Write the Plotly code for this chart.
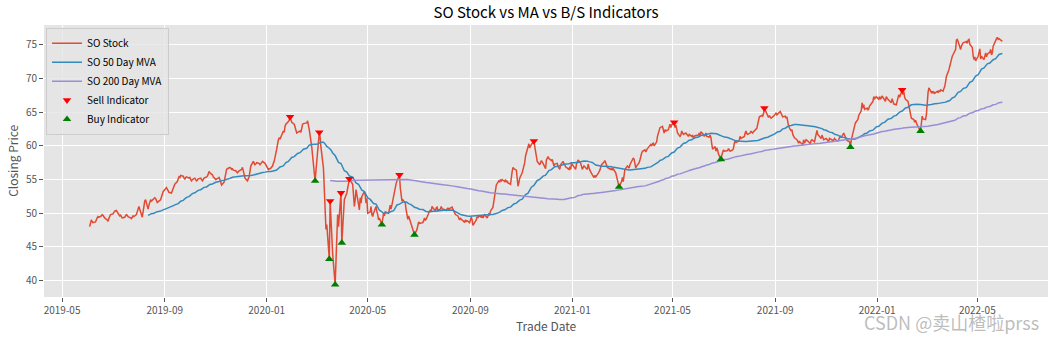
import pandas as pd
import plotly.graph_objects as go

# Southern Co. (SO) adjusted daily closes, one list per month (trading days only)
close_2019 = {
    6: [48.0, 48.4, 49.0, 48.8, 48.6, 48.7, 49.1, 49.3, 49.5, 49.4, 49.6, 49.8, 49.7, 49.5, 49.3, 49.0, 48.8, 49.2, 49.6, 49.8],
    7: [49.9, 50.1, 50.3, 50.4, 49.9, 49.6, 49.7, 49.5, 49.3, 49.4, 49.6, 49.8, 49.7, 49.5, 49.3, 49.2, 49.4, 49.6, 49.5, 49.8, 50.2, 50.5],
    8: [51.0, 50.6, 49.4, 50.2, 51.2, 51.8, 52.0, 50.6, 51.2, 51.6, 52.0, 51.8, 52.1, 52.3, 52.2, 51.8, 51.6, 51.9, 52.0, 52.4, 52.9, 53.2],
    9: [53.8, 53.6, 53.4, 53.1, 53.0, 53.3, 53.7, 54.0, 54.3, 54.7, 55.0, 55.4, 55.3, 55.6, 55.5, 55.2, 55.0, 55.3, 55.4, 55.2],
    10: [55.3, 55.0, 54.8, 55.0, 55.2, 55.0, 54.8, 54.9, 55.1, 55.2, 55.0, 54.8, 55.0, 55.2, 55.4, 55.5, 55.8, 56.2, 56.0, 55.7, 55.4, 55.2, 55.0],
    11: [55.0, 55.2, 55.3, 55.0, 54.5, 54.2, 54.6, 55.2, 56.0, 56.5, 56.6, 56.8, 56.7, 56.5, 56.6, 56.4, 56.3, 56.2, 56.0, 56.3],
    12: [56.5, 56.8, 56.4, 55.8, 55.2, 54.8, 55.1, 55.4, 56.2, 57.0, 57.7, 57.5, 57.2, 57.3, 57.5, 57.4, 57.2, 57.5, 57.7, 57.4, 57.2],
}
close_2020 = {
    1: [56.8, 56.5, 56.7, 56.8, 57.0, 57.4, 57.7, 59.5, 60.7, 60.9, 61.2, 61.0, 62.2, 62.0, 62.9, 63.2, 63.6, 63.8, 64.3, 63.9, 63.5],
    2: [63.2, 62.8, 62.3, 61.9, 62.0, 62.2, 62.0, 62.8, 63.2, 63.3, 63.4, 63.7, 63.1, 62.4, 59.8, 58.0, 57.2, 56.0, 54.8],
    3: [60.0, 60.8, 62.0, 61.3, 59.8, 56.7, 54.0, 49.5, 47.6, 48.3, 43.2, 51.8, 48.5, 46.5, 44.0, 39.4, 43.5, 46.8, 49.8, 48.0, 53.0, 45.6],
    4: [47.5, 49.5, 52.0, 53.0, 53.8, 54.4, 55.1, 54.3, 52.5, 51.0, 52.0, 53.5, 51.3, 50.5, 52.3, 51.5, 52.5, 53.2, 52.7, 51.5, 52.2],
    5: [50.0, 50.2, 51.0, 49.8, 49.5, 50.0, 51.0, 50.2, 49.8, 49.0, 49.3, 48.3, 49.2, 50.0, 49.6, 50.2, 50.0, 50.6, 51.2, 50.6],
    6: [52.6, 53.5, 54.0, 54.4, 54.8, 55.7, 53.8, 52.0, 51.8, 52.0, 51.5, 50.5, 49.8, 49.1, 49.6, 48.5, 48.0, 47.8, 47.3, 46.8, 47.6, 48.4],
    7: [48.7, 48.5, 48.6, 48.9, 49.3, 49.0, 49.1, 50.0, 50.3, 50.5, 50.2, 51.0, 50.5, 50.3, 50.8, 50.9, 50.4, 50.6, 51.0, 50.7, 50.4, 50.6],
    8: [50.4, 50.6, 50.8, 50.5, 50.7, 50.9, 50.6, 50.3, 50.0, 49.8, 49.6, 49.3, 49.0, 49.3, 49.1, 48.8, 48.6, 49.0, 48.8, 48.9, 48.6],
    9: [49.0, 49.4, 49.0, 48.2, 49.0, 49.5, 49.3, 49.6, 49.4, 49.6, 49.3, 49.5, 49.8, 49.3, 49.6, 49.9, 49.8, 50.3, 50.9, 51.8, 52.5],
    10: [53.6, 54.2, 54.8, 54.6, 55.0, 54.8, 55.0, 54.7, 55.0, 54.6, 54.8, 54.5, 54.3, 55.5, 56.2, 56.8, 56.6, 56.4, 55.5, 54.0, 54.5, 55.2],
    11: [56.0, 56.4, 57.0, 57.5, 58.5, 59.9, 60.3, 59.7, 60.0, 60.2, 60.7, 59.8, 58.9, 58.2, 57.7, 57.2, 57.5, 57.8, 57.4, 56.6],
    12: [57.9, 58.2, 58.4, 58.1, 57.8, 58.0, 57.6, 57.0, 57.3, 57.4, 56.9, 56.7, 56.5, 57.2, 57.7, 57.3, 57.2, 56.9, 56.5, 56.9, 56.5, 57.4],
}
close_2021 = {
    1: [56.6, 56.5, 57.3, 57.7, 57.9, 57.4, 57.0, 56.5, 56.8, 57.0, 56.5, 57.3, 56.8, 56.4, 55.7, 55.4, 55.3, 55.6, 55.4],
    2: [55.9, 56.1, 56.4, 56.8, 57.2, 57.6, 57.8, 57.5, 57.0, 56.8, 56.5, 56.7, 56.4, 56.6, 56.0, 55.5, 55.2, 54.6, 53.9],
    3: [54.7, 55.3, 54.7, 55.8, 56.5, 57.0, 56.8, 56.7, 57.2, 57.4, 58.2, 58.0, 57.5, 56.7, 57.0, 57.5, 57.9, 58.7, 58.9, 59.2, 59.4, 59.1, 59.4],
    4: [59.6, 60.2, 60.0, 60.3, 60.4, 60.0, 60.6, 61.4, 62.0, 62.4, 62.7, 62.9, 62.5, 61.9, 62.4, 62.2, 62.4, 63.0, 63.2, 62.7, 63.1],
    5: [63.5, 62.7, 63.1, 62.5, 61.9, 61.4, 61.6, 62.2, 61.8, 61.7, 61.9, 61.7, 61.6, 61.4, 61.7, 61.4, 61.6, 61.2, 61.4, 61.5],
    6: [61.6, 61.9, 61.5, 62.1, 61.7, 61.4, 61.6, 61.9, 61.4, 61.3, 61.6, 61.2, 60.3, 59.5, 59.9, 59.2, 59.7, 59.4, 58.8, 58.0, 58.6, 59.3],
    7: [59.4, 59.2, 59.3, 59.6, 59.4, 59.2, 59.4, 59.6, 60.4, 60.7, 60.5, 60.7, 60.9, 61.4, 61.1, 61.2, 61.4, 61.9, 62.2, 61.8, 61.7],
    8: [61.9, 62.2, 62.0, 61.9, 62.1, 62.4, 62.6, 63.2, 63.9, 64.3, 64.5, 64.4, 64.8, 65.6, 65.3, 64.6, 64.2, 64.5, 64.2, 64.1, 64.4, 64.5],
    9: [64.7, 64.9, 64.6, 65.1, 64.9, 64.6, 64.3, 64.4, 64.1, 64.3, 63.5, 62.9, 62.2, 62.4, 61.7, 61.5, 61.2, 60.9, 60.5, 60.4, 60.7],
    10: [60.5, 60.2, 60.9, 60.4, 60.6, 60.9, 60.6, 60.5, 60.3, 60.8, 60.9, 60.6, 61.2, 61.6, 62.3, 61.7, 61.3, 61.1, 61.6, 61.3, 60.9],
    11: [61.1, 61.0, 60.8, 60.6, 61.1, 60.9, 60.7, 60.9, 61.1, 60.9, 60.7, 60.9, 61.1, 61.5, 61.2, 61.9, 61.6, 61.4, 60.8, 60.6, 59.8],
    12: [60.8, 61.5, 61.9, 63.4, 63.6, 63.9, 63.9, 64.5, 65.2, 66.4, 65.6, 66.1, 65.4, 65.6, 65.3, 65.5, 65.9, 66.6, 67.3, 67.0, 67.2, 67.3],
}
close_2022 = {
    1: [66.9, 67.3, 67.0, 67.1, 67.4, 66.8, 66.6, 67.3, 67.0, 66.9, 66.4, 67.0, 66.6, 66.2, 66.1, 66.7, 66.9, 67.6, 67.2, 68.3],
    2: [67.6, 68.0, 67.2, 66.9, 66.6, 65.9, 65.4, 64.6, 64.1, 63.9, 63.5, 63.8, 63.2, 63.1, 62.2, 63.0, 64.4, 64.0, 63.9],
    3: [64.6, 66.6, 67.9, 68.6, 67.9, 68.1, 67.8, 68.0, 67.8, 68.1, 67.9, 68.2, 68.0, 68.3, 68.1, 68.5, 68.8, 69.5, 70.3, 71.3, 72.0, 72.3, 72.8],
    4: [73.3, 74.0, 74.3, 75.7, 75.8, 75.5, 74.3, 74.8, 75.1, 75.3, 75.5, 75.2, 75.7, 75.8, 75.1, 74.6, 73.4, 72.8, 73.2, 72.6],
    5: [73.3, 73.9, 74.4, 72.9, 73.3, 72.8, 73.5, 73.8, 73.2, 73.6, 73.9, 74.3, 73.5, 73.8, 74.8, 75.8, 75.9, 76.1, 75.8, 75.9, 75.5],
}

# Exchange holidays (no trading)
market_holidays = [
    "2019-07-04", "2019-09-02", "2019-11-28", "2019-12-25",
    "2020-01-01", "2020-01-20", "2020-02-17", "2020-04-10", "2020-05-25",
    "2020-07-03", "2020-09-07", "2020-11-26", "2020-12-25",
    "2021-01-01", "2021-01-18", "2021-02-15", "2021-04-02", "2021-05-31",
    "2021-07-05", "2021-09-06", "2021-11-25", "2021-12-24",
    "2022-01-17", "2022-02-21", "2022-04-15", "2022-05-30",
]

# Buy / sell signal dates
sell_dates = ["2020-01-29", "2020-03-04", "2020-03-17", "2020-03-30", "2020-04-09",
              "2020-06-08", "2020-11-16", "2021-05-03", "2021-08-19", "2022-01-31"]
buy_dates = ["2020-02-28", "2020-03-16", "2020-03-23", "2020-03-31", "2020-05-18",
             "2020-06-26", "2021-02-26", "2021-06-28", "2021-11-30", "2022-02-22"]

# X-axis tick positions and labels
tick_dates = ["2019-05-01", "2019-09-01", "2020-01-01", "2020-05-01", "2020-09-01",
              "2021-01-01", "2021-05-01", "2021-09-01", "2022-01-01", "2022-05-01"]
tick_labels = ["2019-05", "2019-09", "2020-01", "2020-05", "2020-09",
               "2021-01", "2021-05", "2021-09", "2022-01", "2022-05"]

# ---- assemble the daily series ----
days = pd.bdate_range("2019-06-01", "2022-05-31")
days = days[~days.isin(pd.to_datetime(market_holidays))]

idx, vals = [], []
for year, months in [(2019, close_2019), (2020, close_2020), (2021, close_2021), (2022, close_2022)]:
    for month, month_vals in months.items():
        mdays = days[(days.year == year) & (days.month == month)]
        n = min(len(mdays), len(month_vals))
        idx.extend(mdays[:n])
        vals.extend(month_vals[:n])

stock = pd.Series(vals, index=pd.DatetimeIndex(idx))
mva50 = stock.rolling(50).mean()
mva200 = stock.rolling(200).mean()

sell_idx = pd.to_datetime(sell_dates)
buy_idx = pd.to_datetime(buy_dates)
sell_vals = stock.reindex(sell_idx)
buy_vals = stock.reindex(buy_idx)

FONT = "Noto Sans CJK SC, Microsoft YaHei, DejaVu Sans, sans-serif"

fig = go.Figure()
fig.add_trace(go.Scatter(x=stock.index, y=stock.values, mode="lines", name="SO Stock",
                         line=dict(color="#E24A33", width=1.5)))
fig.add_trace(go.Scatter(x=mva50.index, y=mva50.values, mode="lines", name="SO 50 Day MVA",
                         line=dict(color="#348ABD", width=1.5)))
fig.add_trace(go.Scatter(x=mva200.index, y=mva200.values, mode="lines", name="SO 200 Day MVA",
                         line=dict(color="#988ED5", width=1.5)))
fig.add_trace(go.Scatter(x=sell_idx, y=sell_vals.values, mode="markers", name="Sell Indicator",
                         marker=dict(symbol="triangle-down", color="#FF0000", size=7.5, line=dict(width=0))))
fig.add_trace(go.Scatter(x=buy_idx, y=buy_vals.values, mode="markers", name="Buy Indicator",
                         marker=dict(symbol="triangle-up", color="#008000", size=7.5, line=dict(width=0))))

# matplotlib-like 5% data margins
t0, t1 = stock.index.min(), stock.index.max()
pad_t = (t1 - t0) * 0.05
ymin, ymax = stock.min(), stock.max()
pad_y = (ymax - ymin) * 0.05

fig.update_layout(
    width=1054, height=340,
    margin=dict(l=44, r=6, t=25, b=43),
    paper_bgcolor="white", plot_bgcolor="#E5E5E5",
    font=dict(family=FONT, size=10, color="#555555"),
    title=dict(text="SO Stock vs MA vs B/S Indicators", x=0.5, xref="paper", xanchor="center",
               y=1 - 13 / 340, yref="container", yanchor="middle",
               font=dict(family=FONT, size=15, color="black")),
    showlegend=True,
    legend=dict(x=0.002, y=0.99, xanchor="left", yanchor="top",
                bgcolor="rgba(229,229,229,0.8)", bordercolor="#CCCCCC", borderwidth=1,
                font=dict(family=FONT, size=10, color="black"),
                tracegroupgap=0, itemwidth=30),
)
fig.update_xaxes(
    range=[t0 - pad_t, t1 + pad_t], type="date",
    tickvals=pd.to_datetime(tick_dates), ticktext=tick_labels,
    showgrid=True, gridcolor="white", gridwidth=1,
    ticks="outside", ticklen=4, tickcolor="#555555", tickwidth=1,
    tickfont=dict(family=FONT, size=10, color="#555555"),
    zeroline=False, showline=False,
)
fig.update_yaxes(
    range=[ymin - pad_y, ymax + pad_y], tickvals=list(range(40, 80, 5)),
    showgrid=True, gridcolor="white", gridwidth=1,
    ticks="outside", ticklen=4, tickcolor="#555555", tickwidth=1,
    tickfont=dict(family=FONT, size=10, color="#555555"),
    zeroline=False, showline=False,
)

# axis titles
fig.add_annotation(text="Trade Date", xref="paper", yref="paper", x=0.5, y=-0.103,
                   showarrow=False, xanchor="center", yanchor="middle",
                   font=dict(family=FONT, size=12, color="#555555"))
fig.add_annotation(text="Closing Price", xref="paper", yref="paper", x=-0.032, y=0.5,
                   showarrow=False, xanchor="center", yanchor="middle", textangle=-90,
                   font=dict(family=FONT, size=12, color="#555555"))
# watermark
fig.add_annotation(text="CSDN @卖山楂啦prss", xref="paper", yref="paper",
                   x=0.993, y=-0.092, showarrow=False, xanchor="right", yanchor="middle",
                   font=dict(family=FONT, size=18, color="rgba(160,160,160,0.7)"))

fig.write_html("out.html")
